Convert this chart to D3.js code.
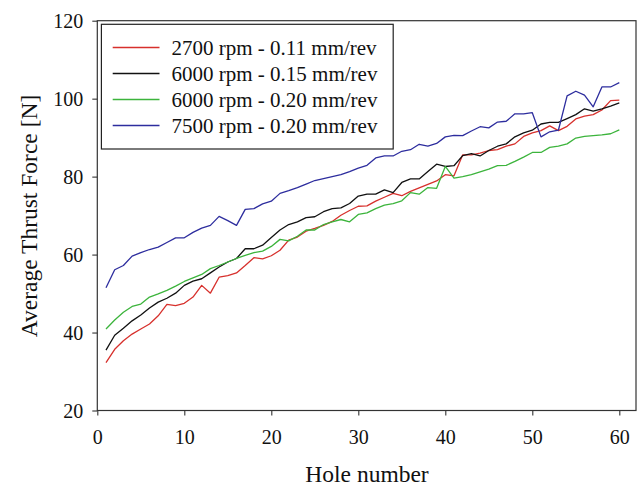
<!DOCTYPE html>
<html><head><meta charset="utf-8">
<script src="https://cdn.jsdelivr.net/npm/d3@7"></script>
<style>body{margin:0;background:#fff}svg{display:block}</style>
</head><body>
<svg id="c" width="638" height="486"></svg>
<script>
const holes = d3.range(1, 61);
const seriesNames = ["2700 rpm - 0.11 mm/rev","6000 rpm - 0.15 mm/rev","6000 rpm - 0.20 mm/rev","7500 rpm - 0.20 mm/rev"];
const seriesColors = ["#d7302c","#111111","#3cb43c","#2d2d9e"];
const red2700 = [32.3,35.7,37.9,39.6,40.9,42.2,44.3,47.2,46.9,47.5,49.1,52.1,50.1,54.2,54.6,55.3,57.2,59.2,58.9,59.7,61.1,63.7,64.5,66.0,66.7,67.5,68.5,70.1,71.3,72.4,72.5,73.7,74.7,75.7,75.1,76.2,77.1,78.0,78.9,80.5,80.2,85.6,85.6,86.0,86.7,86.9,87.8,88.4,90.3,91.2,91.8,93.0,91.8,92.9,94.8,95.5,95.9,97.1,99.5,99.6];
const black6000_15 = [35.5,39.3,41.1,43.0,44.5,46.3,47.8,48.8,50.1,52.1,53.2,53.8,55.3,56.8,58.1,59.0,61.5,61.5,62.4,64.4,66.3,67.7,68.4,69.5,69.7,71.0,71.8,72.0,73.1,75.0,75.5,75.5,76.6,75.9,78.5,79.4,79.4,81.3,83.2,82.6,82.8,85.4,85.9,85.3,86.7,87.8,88.4,90.2,91.2,91.9,93.5,93.9,93.9,94.9,95.9,97.4,96.8,97.4,98.1,98.9];
const green6000_20 = [40.9,43.2,45.2,46.7,47.3,49.1,49.9,50.8,51.9,53.1,54.0,54.9,56.4,57.2,58.1,59.0,59.8,60.5,60.9,62.1,63.9,63.5,64.7,66.3,66.3,67.7,68.4,69.0,68.4,70.3,70.7,71.8,72.7,73.1,73.8,75.9,75.5,77.2,77.0,82.6,79.6,80.0,80.5,81.2,81.9,82.8,82.9,83.9,85.0,86.2,86.2,87.5,87.8,88.4,89.9,90.3,90.5,90.7,91.0,92.0];
const blue7500 = [51.5,56.1,57.2,59.6,60.5,61.3,61.9,63.1,64.3,64.3,65.7,66.8,67.5,69.8,68.7,67.5,71.6,71.8,73.0,73.7,75.7,76.4,77.2,78.1,79.0,79.5,80.0,80.5,81.3,82.2,82.9,84.8,85.3,85.3,86.5,86.9,88.3,87.8,88.5,90.2,90.6,90.5,91.7,92.8,92.5,94.0,94.2,96.1,96.1,96.4,90.2,91.5,91.9,100.7,101.9,100.9,97.9,103.0,103.0,104.1];
const xTicks = [0,10,20,30,40,50,60];
const yTicks = [20,40,60,80,100,120];

const allSeries = [red2700, black6000_15, green6000_20, blue7500];
const FONT = "Liberation Serif";

const svg = d3.select("#c");
const L = 97.3, R = 636, T = 20.7, B = 410.5;
const x = d3.scaleLinear().domain([0, 60]).range([L, 619.3]);
const y = d3.scaleLinear().domain([20, 120]).range([B, T]);

svg.append("rect").attr("x", L).attr("y", T).attr("width", R - L).attr("height", B - T)
  .attr("fill", "none").attr("stroke", "#333").attr("stroke-width", 1.2);

const xAxis = svg.append("g").attr("transform", `translate(0,${B})`)
  .call(d3.axisBottom(x).tickValues(xTicks).tickSize(5).tickPadding(14).tickFormat(d3.format("d")));
const yAxis = svg.append("g").attr("transform", `translate(${L},0)`)
  .call(d3.axisLeft(y).tickValues(yTicks).tickSize(5).tickPadding(9).tickFormat(d3.format("d")));
[xAxis, yAxis].forEach(g => {
  g.attr("font-family", null).attr("font-size", null);
  g.select(".domain").remove();
  g.selectAll("line").attr("stroke", "#333").attr("stroke-width", 1.1);
  g.selectAll("text").style("font-size", "20px").style("font-family", FONT).attr("fill", "#111");
});
yAxis.selectAll("text").attr("dy", "0.34em");

const line = d3.line().x((d, i) => x(holes[i])).y(d => y(d));
allSeries.forEach((s, k) => {
  svg.append("path").datum(s).attr("d", line).attr("fill", "none")
    .attr("stroke", seriesColors[k]).attr("stroke-width", 1.3).attr("stroke-linejoin", "round");
});

const lg = svg.append("g");
lg.append("rect").attr("x", 101.4).attr("y", 24.3).attr("width", 291.8).attr("height", 124.7)
  .attr("fill", "#fff").attr("stroke", "#222").attr("stroke-width", 1.2);
seriesNames.forEach((n, k) => {
  const yy = 47.5 + k * 26;
  lg.append("line").attr("x1", 112.7).attr("x2", 159.5).attr("y1", yy).attr("y2", yy)
    .attr("stroke", seriesColors[k]).attr("stroke-width", 1.3);
  lg.append("text").attr("x", 171.5).attr("y", yy).attr("dy", "0.34em").attr("fill", "#111")
    .style("font-family", FONT).style("font-size", "21px").text(n);
});

svg.append("text").attr("x", 367).attr("y", 482).attr("text-anchor", "middle").attr("fill", "#111")
  .style("font-family", FONT).style("font-size", "23.5px").text("Hole number");
svg.append("text").attr("transform", "translate(37,216) rotate(-90)").attr("text-anchor", "middle").attr("fill", "#111")
  .style("font-family", FONT).style("font-size", "23.5px").text("Average Thrust Force [N]");
</script>
</body></html>
